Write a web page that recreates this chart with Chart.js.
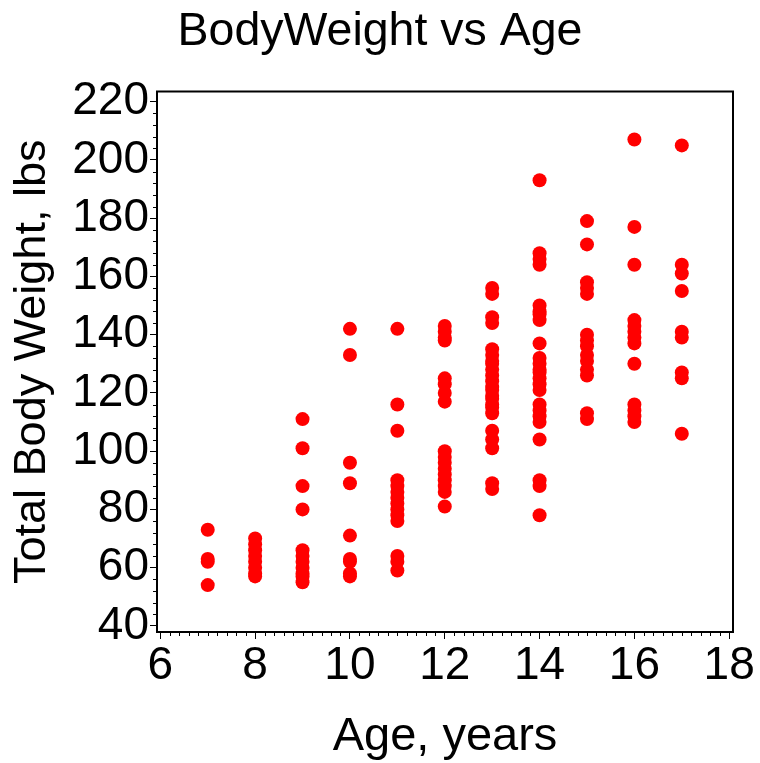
<!DOCTYPE html>
<html>
<head>
<meta charset="utf-8">
<script src="https://cdn.jsdelivr.net/npm/chart.js@4"></script>
<style>
  body { margin: 0; background: #fff; }
</style>
</head>
<body>
<canvas id="scatterChart" width="760" height="763"></canvas>
<script>
const ages = [7, 8, 9, 10, 11, 12, 13, 14, 15, 16, 17];

// weights (lbs) observed at each age, same order as ages
const weightsByAge = [
    [73, 63, 62, 54],
    [70, 68, 66, 64, 62, 60, 58, 57],
    [111, 101, 88, 80, 66, 64, 62, 60, 58, 57, 55],
    [142, 133, 96, 89, 71, 63, 62, 58, 57],
    [142, 116, 107, 90, 88, 86, 84, 82, 80, 78, 76, 64, 62, 59],
    [143, 141, 139, 138, 125, 123, 120, 117, 100, 98, 96, 94, 92, 90, 88, 86, 81],
    [156, 154, 146, 144, 135, 133, 131, 130, 128, 126, 124, 122, 121, 119, 118, 116, 115, 113, 107, 104, 101, 89, 87],
    [193, 168, 166, 164, 150, 148, 147, 145, 137, 132, 130, 128, 127, 125, 123, 121, 116, 114, 112, 110, 104, 90, 88, 78],
    [179, 171, 158, 156, 154, 140, 138, 136, 133, 131, 128, 126, 113, 111],
    [207, 177, 164, 145, 143, 141, 139, 137, 130, 116, 114, 112, 110],
    [205, 164, 161, 155, 141, 139, 127, 125, 106]
];

const xTicks = [6, 8, 10, 12, 14, 16, 18];
const yTicks = [40, 60, 80, 100, 120, 140, 160, 180, 200, 220];
const xMinorPerMajor = 10;
const yMinorPerMajor = 5;

const points = ages.flatMap((age, i) => weightsByAge[i].map(w => ({ x: age, y: w })));

const fontFamily = "'Liberation Sans', Arial, sans-serif";
const bigFont = { family: fontFamily, size: 46, lineHeight: 1 };

// draws the box round the plot and the small ticks between the labelled ones
const frameAndMinorTicks = {
    id: 'frameAndMinorTicks',
    afterDraw(chart) {
        const { ctx, chartArea: a, scales: { x, y } } = chart;
        ctx.save();
        ctx.strokeStyle = '#000';
        ctx.lineWidth = 1;
        ctx.beginPath();
        for (let i = 0; i < xTicks.length - 1; i++) {
            const step = (xTicks[i + 1] - xTicks[i]) / xMinorPerMajor;
            for (let k = 1; k < xMinorPerMajor; k++) {
                const px = Math.round(x.getPixelForValue(xTicks[i] + k * step)) + 0.5;
                ctx.moveTo(px, a.bottom);
                ctx.lineTo(px, a.bottom + 4);
            }
        }
        for (let i = 0; i < yTicks.length - 1; i++) {
            const step = (yTicks[i + 1] - yTicks[i]) / yMinorPerMajor;
            for (let k = 1; k < yMinorPerMajor; k++) {
                const py = Math.round(y.getPixelForValue(yTicks[i] + k * step)) + 0.5;
                ctx.moveTo(a.left, py);
                ctx.lineTo(a.left - 4, py);
            }
        }
        ctx.stroke();
        ctx.lineWidth = 2;
        ctx.strokeRect(a.left, a.top, a.right - a.left, a.bottom - a.top);
        ctx.restore();
    }
};

const ctx = document.getElementById('scatterChart').getContext('2d');

new Chart(ctx, {
    type: 'scatter',
    data: {
        datasets: [{
            label: 'BodyWeight',
            data: points,
            backgroundColor: '#ff0000',
            borderWidth: 0,
            pointRadius: 7,
            pointHoverRadius: 7
        }]
    },
    options: {
        responsive: false,
        animation: false,
        layout: { padding: 0 },
        scales: {
            x: {
                type: 'linear',
                min: 5.93,
                max: 18.08,
                afterBuildTicks: scale => { scale.ticks = xTicks.map(v => ({ value: v })); },
                afterFit: scale => { scale.height = 131; },
                ticks: { font: bigFont, color: '#000', padding: 4, maxRotation: 0, autoSkip: false },
                grid: { drawOnChartArea: false, tickLength: 7, color: '#000', lineWidth: 1 },
                border: { display: false },
                title: { display: true, text: 'Age, years', font: { ...bigFont, size: 47 }, color: '#000', padding: { top: 0, bottom: 2 } }
            },
            y: {
                min: 37.9,
                max: 223.5,
                afterBuildTicks: scale => { scale.ticks = yTicks.map(v => ({ value: v })); },
                afterFit: scale => { scale.width = 157; },
                ticks: { font: bigFont, color: '#000', padding: 1, autoSkip: false },
                grid: { drawOnChartArea: false, tickLength: 7, color: '#000', lineWidth: 1 },
                border: { display: false },
                title: { display: true, text: 'Total Body Weight, lbs', font: { ...bigFont, size: 45 }, color: '#000', padding: { top: 10, bottom: 0 } }
            },
            // empty strip on the right so the title stays centred on the page
            rightGap: {
                type: 'linear',
                position: 'right',
                afterFit: scale => { scale.width = 27; },
                ticks: { display: false },
                grid: { display: false },
                border: { display: false }
            }
        },
        plugins: {
            legend: { display: false },
            tooltip: { enabled: false },
            title: {
                display: true,
                text: 'BodyWeight vs Age',
                font: { family: fontFamily, size: 46.5, weight: 'normal', lineHeight: 1 },
                color: '#000',
                padding: { top: 9, bottom: 36 }
            }
        }
    },
    plugins: [frameAndMinorTicks]
});
</script>
</body>
</html>
